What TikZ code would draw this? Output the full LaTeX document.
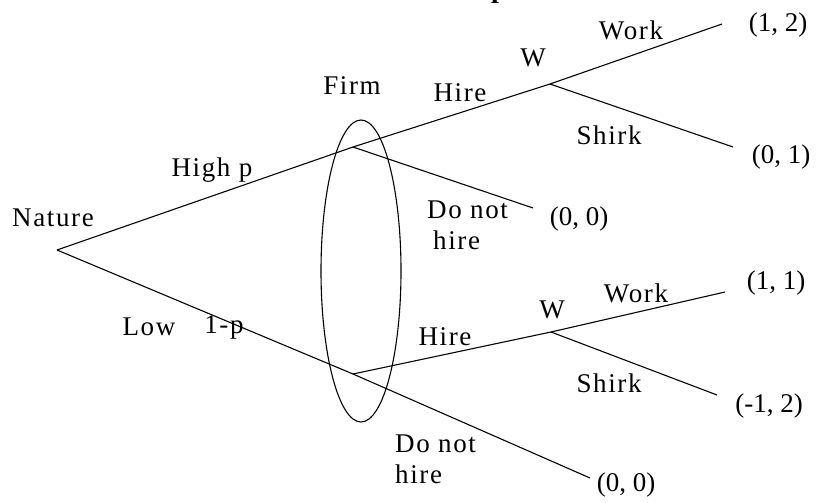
\documentclass[tikz,border=0pt]{standalone}
\usepackage{fontspec}
\setmainfont{Liberation Serif}
\usetikzlibrary{shapes.geometric, positioning}

\begin{document}
\begin{tikzpicture}[
    x=1pt, y=-1pt,
    choice/.style={inner sep=0pt, font=\fontsize{27}{31}\selectfont\addfontfeature{LetterSpace=6}, align=left},
    payoff/.style={inner sep=0pt, font=\fontsize{27}{31}\selectfont},
    branch/.style={draw=black, line width=1.1pt},
    infoset/.style={ellipse, draw=black, line width=1.1pt, minimum width=80pt, minimum height=302pt, inner sep=0pt}
]
\useasboundingbox (0,0) rectangle (827,503);
\node (titlep) [inner sep=0pt, anchor=base west, font=\fontsize{28}{32}\selectfont\bfseries] at (491,-2) {p};
% decision points and ends
\coordinate (nature) at (57,250);
\coordinate (firmhigh) at (353,147);
\coordinate (firmlow) at (353,374);
\coordinate (whigh) at (550,84);
\coordinate (wlow) at (551,332);
\coordinate (endhw) at (722,24);
\coordinate (endhs) at (733,147);
\coordinate (endhn) at (533,208);
\coordinate (endlw) at (725,292);
\coordinate (endls) at (717,395);
\coordinate (endln) at (590,478);
\node (firmset) [infoset] at (361,271) {};
% labels
\node (naturetxt) [choice] at (53,218) {Nature};
\node (highp) [choice] at (212,170) {High p};
\node (low) [choice] at (149,327) {Low};
\node (lowp) [choice] at (224,327) {1-p};
\node (firmtxt) [choice] at (352,86) {Firm};
\node (hirehigh) [choice] at (460,93) {Hire};
\node (hirelow) [choice] at (445,337) {Hire};
\node (wtxthigh) [choice] at (533,58) {W};
\node (wtxtlow) [choice] at (552,310) {W};
\node (workhigh) [choice] at (631,30) {Work};
\node (worklow) [choice] at (636,293) {Work};
\node (shirkhigh) [choice] at (609,135) {Shirk};
\node (shirklow) [choice] at (609,383) {Shirk};
\node (nohirehigh) [choice, anchor=north west] at (427,201) {Do not\\\hspace{6pt}hire};
\node (nohirelow) [choice, anchor=north west] at (395,435) {Do not\\hire};
% payoffs
\node (payhw) [payoff] at (778,25) {(1, 2)};
\node (payhs) [payoff] at (781,157) {(0, 1)};
\node (payhn) [payoff] at (579,219) {(0, 0)};
\node (paylw) [payoff] at (776,283) {(1, 1)};
\node (payls) [payoff] at (769,406) {(-1, 2)};
\node (payln) [payoff] at (626,485) {(0, 0)};
% branches
\draw [branch] (nature) -- (firmhigh);
\draw [branch] (nature) -- (firmlow);
\draw [branch] (firmhigh) -- (whigh);
\draw [branch] (firmhigh) -- (endhn);
\draw [branch] (whigh) -- (endhw);
\draw [branch] (whigh) -- (endhs);
\draw [branch] (firmlow) -- (wlow);
\draw [branch] (firmlow) -- (endln);
\draw [branch] (wlow) -- (endlw);
\draw [branch] (wlow) -- (endls);
\end{tikzpicture}
\end{document}
